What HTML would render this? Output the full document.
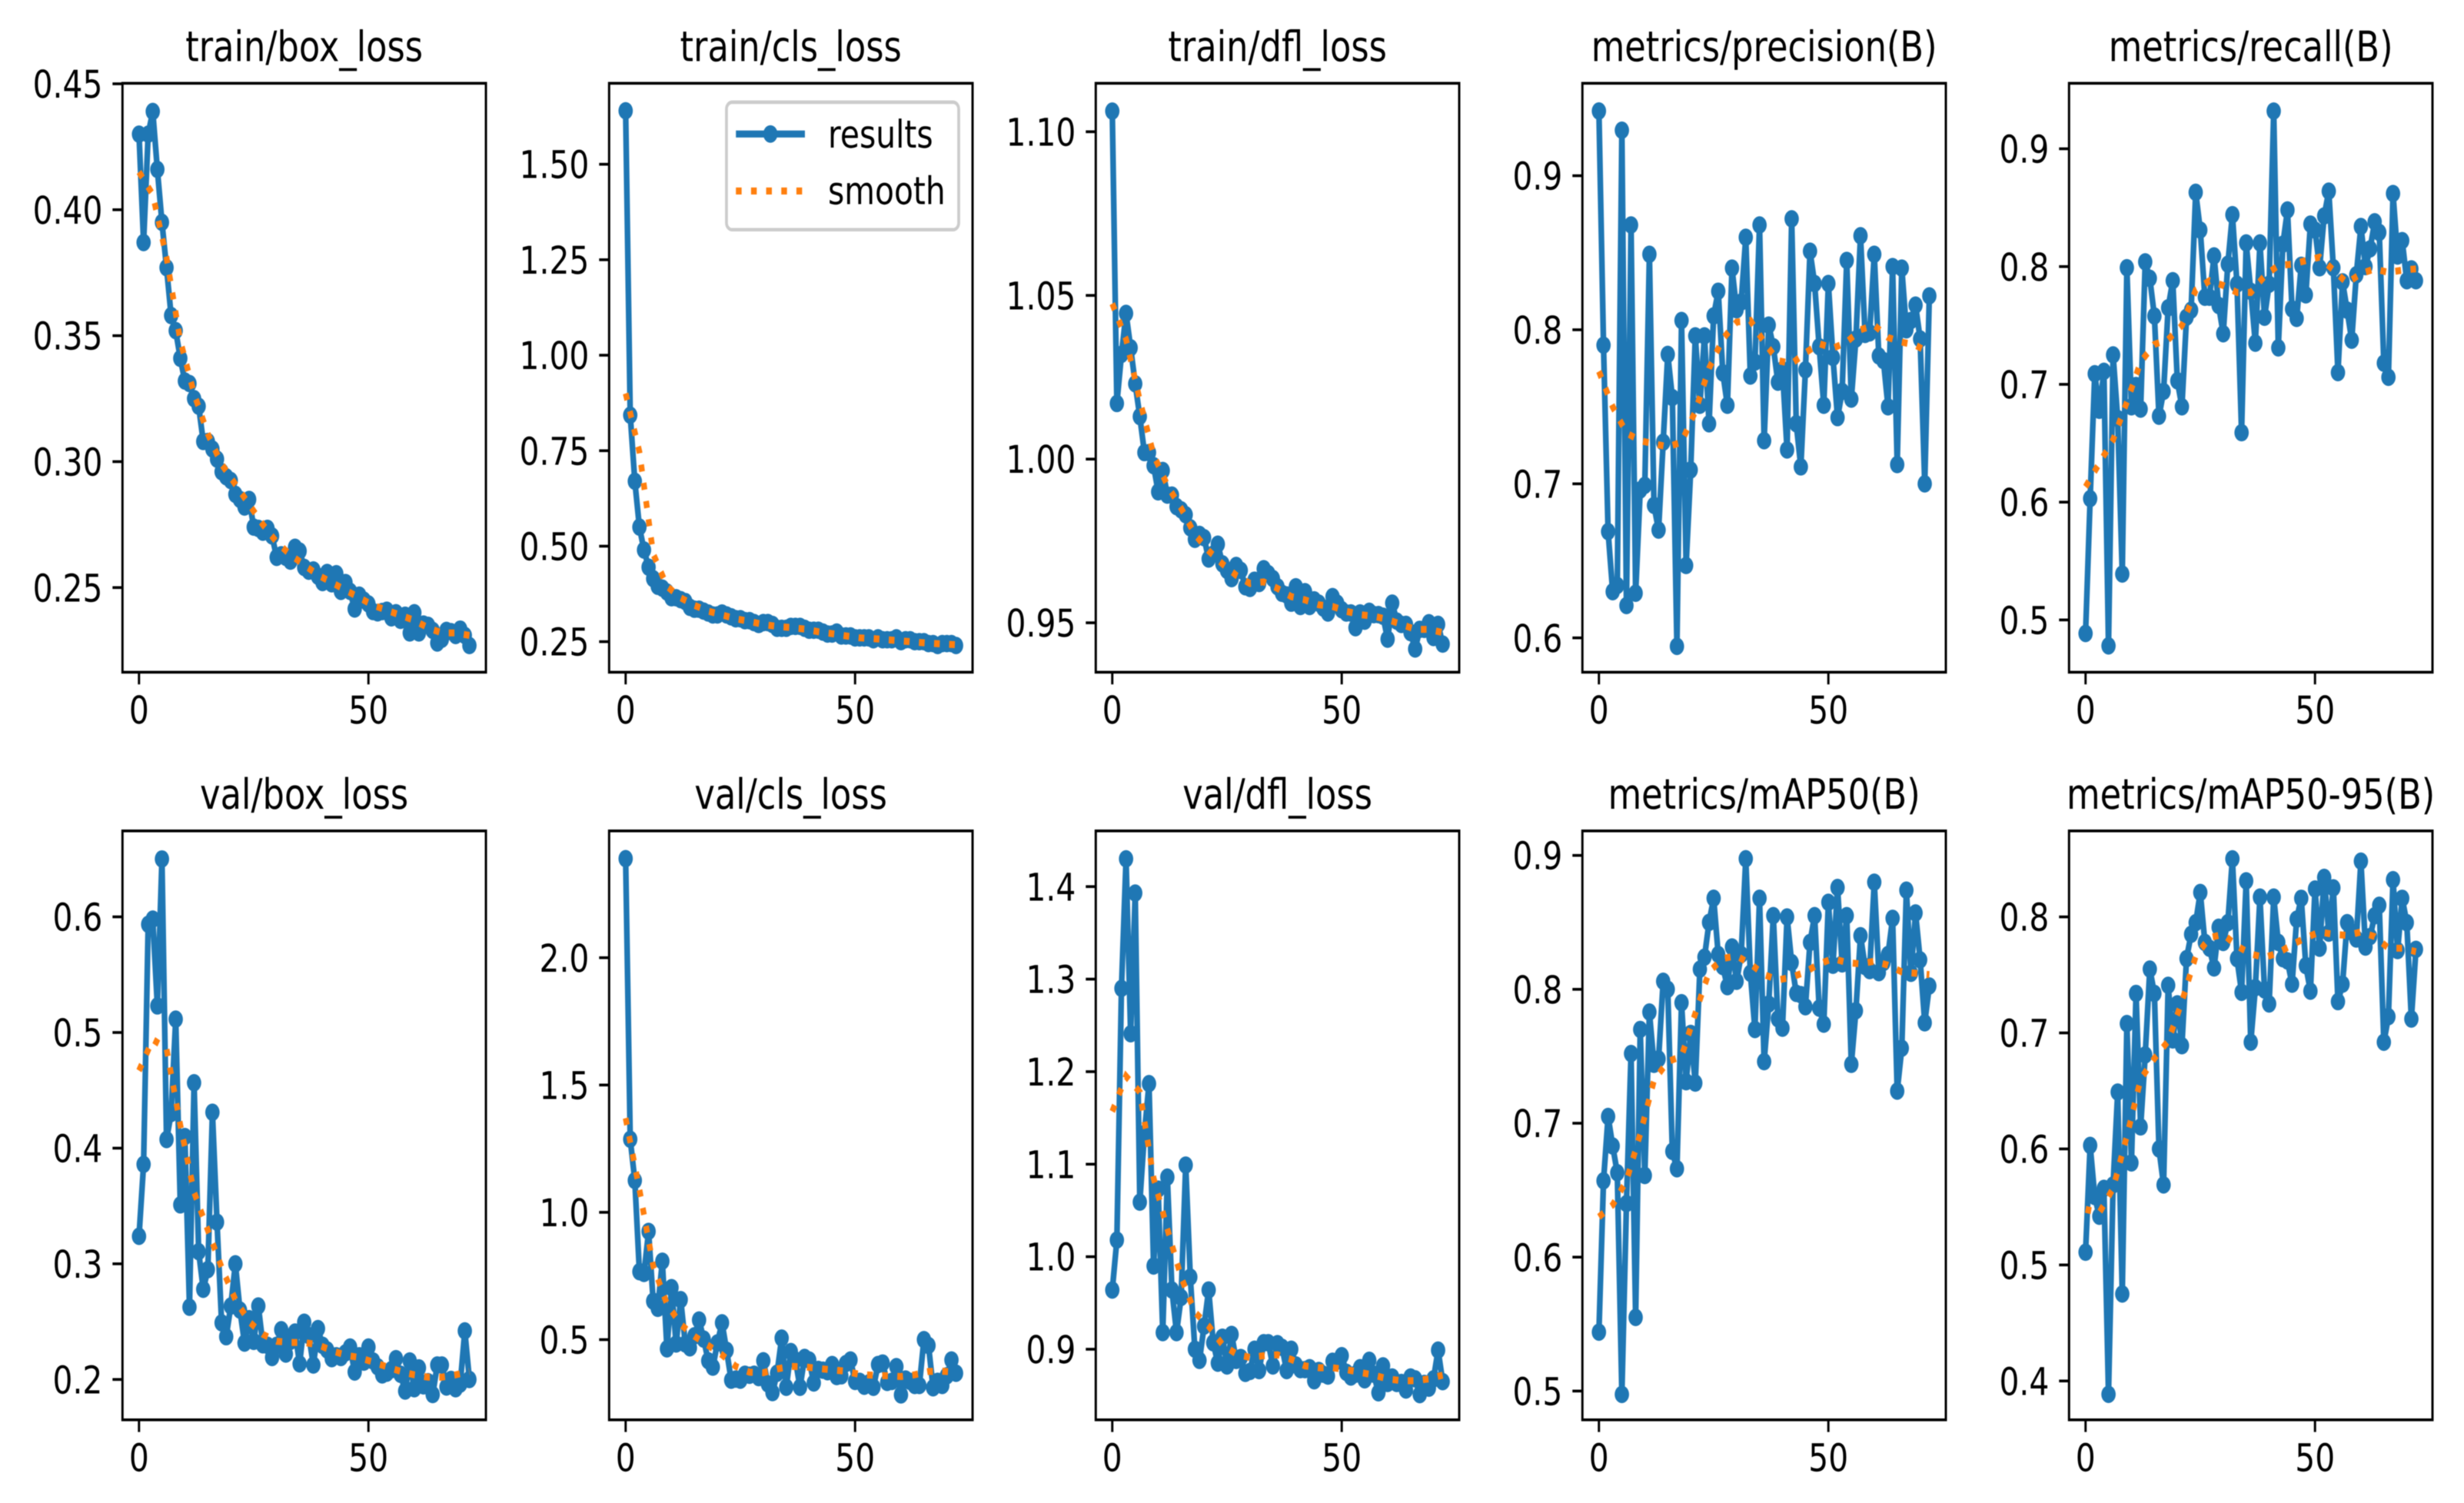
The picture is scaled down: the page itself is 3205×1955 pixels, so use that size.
<!DOCTYPE html>
<html lang="en">
<head>
<meta charset="utf-8">
<title>Training results</title>
<style>
html,body{margin:0;padding:0;background:#fff;width:3205px;height:1955px;overflow:hidden}
svg{display:block;filter:blur(0.6px)}
text{font-family:"DejaVu Sans","Liberation Sans",sans-serif;fill:#000;text-rendering:geometricPrecision}
</style>
</head>
<body>
<svg id="chart" xmlns="http://www.w3.org/2000/svg" width="3205" height="1955" viewBox="0 0 2400 1200" preserveAspectRatio="none">
<rect x="0" y="0" width="2400" height="1200" fill="#fff"/>
<g id="panels"></g>
<g id="legend">
  <rect x="707.6" y="81.6" width="226.2" height="101.8" rx="5.5" ry="5.5" fill="#fff" fill-opacity="0.8" stroke="#cccccc" stroke-width="2.78"/>
  <line x1="716.8" y1="107" x2="784" y2="107" stroke="#1f77b4" stroke-width="5.56"/>
  <circle cx="750.4" cy="107" r="7" fill="#1f77b4"/>
  <text x="806.5" y="117.8" font-size="30.55">results</text>
  <line x1="716.8" y1="152.5" x2="784" y2="152.5" stroke="#ff7f0e" stroke-width="5.56" stroke-dasharray="5.56 9.17"/>
  <text x="806.5" y="162.9" font-size="30.55">smooth</text>
</g>
</svg>
<script>
const xTickLabels = ["0", "50"];
const xDomain = [-3.6, 75.6];
const smoothEpochs = [0,3,6,9,12,15,18,21,24,27,30,33,36,39,42,45,48,51,54,57,60,63,66,69,72];

const trainBoxLoss = [
.430,.387,.430,.439,.416,.395,.377,.358,.352,.341,
.332,.331,.325,.322,.308,.308,.305,.301,.296,.294,
.2925,.287,.285,.282,.285,.274,.2735,.272,.2735,.2705,
.262,.263,.262,.2605,.266,.2645,.258,.2565,.257,.2545,
.252,.256,.2515,.2555,.2485,.252,.2485,.2415,.247,.245,
.2435,.2405,.240,.2405,.241,.238,.24,.237,.239,.232,
.24,.232,.2355,.235,.233,.228,.2295,.233,.2325,.231,
.2335,.231,.227];
const trainBoxSmooth = [.415,.406,.381,.348,.327,.311,.299,.291,.283,.275,.268,.263,.259,.255,.252,.249,.246,.243,.241,.239,.237,.234,.232,.232,.231];
const trainBoxTicks = ["0.25","0.30","0.35","0.40","0.45"];
const trainBoxDomain = [.2164,.4502];

const trainClsLoss = [
1.64,.843,.67,.55,.49,.445,.415,.395,.39,.38,
.365,.365,.36,.355,.34,.335,.335,.33,.325,.32,
.32,.325,.32,.315,.31,.31,.305,.305,.30,.295,
.30,.30,.295,.285,.285,.285,.29,.29,.29,.285,
.28,.28,.28,.275,.27,.27,.275,.265,.265,.265,
.26,.26,.26,.26,.255,.26,.255,.255,.255,.26,
.25,.255,.255,.25,.25,.25,.245,.245,.24,.245,
.245,.245,.24];
const trainClsSmooth = [.90,.747,.48,.395,.365,.345,.33,.32,.31,.303,.295,.29,.287,.283,.276,.271,.265,.26,.258,.255,.252,.249,.246,.244,.242];
const trainClsTicks = ["0.25","0.50","0.75","1.00","1.25","1.50"];
const trainClsDomain = [.170,1.712];

const trainDflLoss = [
1.1063,1.017,1.032,1.0445,1.034,1.023,1.013,1.002,1.002,.998,
.990,.9965,.989,.989,.9855,.9845,.983,.979,.9755,.977,
.976,.9695,.971,.974,.968,.966,.9635,.9675,.966,.961,
.9605,.963,.962,.9665,.965,.9635,.961,.959,.9585,.956,
.961,.955,.9595,.955,.957,.956,.9545,.953,.958,.956,
.954,.953,.953,.9485,.953,.9505,.9535,.9525,.9525,.952,
.945,.956,.9505,.9495,.9495,.947,.942,.948,.948,.95,
.9455,.9495,.9435];
const trainDflSmooth = [1.0475,1.0366,1.018,1.0013,.992,.985,.977,.972,.968,.9645,.962,.9625,.9605,.958,.957,.9555,.955,.9535,.9525,.952,.951,.9495,.948,.948,.947];
const trainDflTicks = ["0.95","1.00","1.05","1.10"];
const trainDflDomain = [.9349,1.1148];

const precision = [
.942,.79,.669,.63,.634,.9295,.621,.868,.629,.696,
.699,.849,.686,.67,.727,.784,.756,.5945,.806,.647,
.709,.796,.751,.796,.739,.809,.825,.772,.751,.84,
.813,.818,.86,.77,.779,.868,.728,.803,.789,.766,
.774,.722,.872,.739,.711,.774,.851,.83,.789,.751,
.83,.782,.743,.76,.845,.755,.794,.861,.797,.798,
.849,.783,.78,.75,.841,.7125,.84,.80,.806,.816,
.794,.70,.822];
const precisionSmooth = [.773,.75,.733,.728,.726,.724,.727,.747,.775,.794,.805,.806,.792,.78,.778,.785,.791,.788,.792,.80,.803,.795,.792,.79,.785];
const precisionTicks = ["0.6","0.7","0.8","0.9"];
const precisionDomain = [.5777,.96];

const recall = [
.4885,.603,.709,.678,.711,.478,.725,.671,.539,.799,
.681,.699,.679,.804,.79,.758,.673,.694,.765,.788,
.703,.681,.757,.763,.863,.831,.774,.774,.809,.767,
.743,.802,.844,.785,.659,.82,.779,.735,.82,.757,
.785,.932,.731,.819,.848,.764,.756,.801,.776,.836,
.831,.799,.843,.864,.799,.71,.787,.763,.7375,.793,
.834,.80,.815,.838,.829,.718,.706,.862,.809,.822,
.788,.798,.788];
const recallSmooth = [.613,.633,.653,.685,.719,.734,.738,.75,.78,.788,.784,.778,.778,.792,.801,.802,.805,.808,.797,.786,.794,.798,.795,.797,.798];
const recallTicks = ["0.5","0.6","0.7","0.8","0.9"];
const recallDomain = [.4556,.9556];

const valBoxLoss = [
.3238,.386,.5935,.598,.523,.65,.4075,.43,.5115,.351,
.41,.2625,.4565,.3105,.278,.295,.431,.336,.249,.237,
.2635,.30,.26,.2315,.2525,.233,.2635,.23,.2295,.219,
.2295,.243,.222,.233,.241,.2135,.2495,.238,.2125,.244,
.2295,.2255,.218,.2205,.219,.223,.228,.2065,.2205,.215,
.228,.216,.211,.204,.2055,.2085,.218,.2045,.19,.216,
.192,.21,.1945,.198,.187,.2125,.2125,.1935,.20,.192,
.196,.242,.20];
const valBoxSmooth = [.467,.494,.486,.42,.362,.329,.297,.269,.25,.239,.233,.232,.232,.23,.225,.221,.219,.215,.211,.207,.204,.202,.202,.204,.207];
const valBoxTicks = ["0.2","0.3","0.4","0.5","0.6"];
const valBoxDomain = [.1651,.6743];

const valClsLoss = [
2.389,1.287,1.125,.767,.76,.925,.651,.623,.808,.464,
.704,.483,.657,.483,.468,.515,.577,.502,.417,.392,
.487,.566,.458,.341,.345,.341,.364,.36,.364,.351,
.417,.326,.292,.368,.506,.313,.453,.42,.313,.43,
.42,.33,.383,.38,.374,.402,.355,.358,.406,.42,
.336,.336,.317,.33,.313,.402,.408,.332,.336,.394,
.283,.345,.336,.32,.32,.50,.477,.311,.336,.32,
.358,.42,.368];
const valClsSmooth = [1.37,1.09,.79,.64,.56,.513,.477,.44,.395,.372,.37,.385,.395,.393,.387,.381,.376,.363,.36,.358,.355,.362,.375,.376,.372];
const valClsTicks = ["0.5","1.0","1.5","2.0"];
const valClsDomain = [.185,2.498];

const valDflLoss = [
.964,1.018,1.29,1.43,1.241,1.393,1.059,1.133,1.187,.99,
1.073,.918,1.086,.964,.918,.956,1.099,.978,.90,.888,
.925,.964,.907,.885,.913,.882,.916,.888,.891,.874,
.876,.90,.877,.907,.907,.882,.906,.902,.877,.90,
.883,.878,.878,.88,.866,.877,.873,.871,.887,.887,
.893,.875,.87,.873,.88,.867,.888,.873,.853,.882,
.863,.87,.863,.864,.856,.87,.868,.851,.863,.858,
.868,.899,.865];
const valDflSmooth = [1.157,1.195,1.178,1.085,1.03,.978,.94,.925,.905,.895,.891,.893,.894,.889,.882,.88,.88,.878,.875,.872,.868,.866,.866,.868,.872];
const valDflTicks = ["0.9","1.0","1.1","1.2","1.3","1.4"];
const valDflDomain = [.8237,1.4602];

const map50 = [
.544,.657,.705,.683,.663,.4975,.64,.752,.555,.77,
.661,.783,.744,.748,.806,.80,.679,.666,.79,.731,
.767,.73,.815,.824,.85,.868,.826,.817,.802,.8316,
.806,.826,.8975,.812,.77,.868,.746,.789,.855,.778,
.771,.854,.82,.797,.796,.787,.835,.855,.786,.774,
.865,.818,.876,.819,.855,.744,.784,.84,.817,.814,
.88,.8125,.82,.826,.853,.724,.756,.874,.812,.857,
.822,.775,.8025];
const map50Smooth = [.63,.639,.657,.692,.732,.746,.75,.782,.813,.823,.825,.819,.811,.807,.809,.813,.819,.823,.82,.819,.821,.818,.813,.812,.811];
const map50Ticks = ["0.5","0.6","0.7","0.8","0.9"];
const map50Domain = [.4785,.9183];

const map5095 = [
.511,.603,.559,.542,.566,.3885,.569,.649,.475,.708,
.588,.734,.619,.681,.755,.734,.60,.569,.741,.694,
.725,.689,.764,.785,.795,.821,.778,.773,.756,.791,
.778,.795,.85,.764,.735,.831,.692,.739,.817,.737,
.725,.817,.778,.764,.762,.742,.798,.816,.758,.736,
.824,.773,.834,.786,.825,.727,.742,.795,.787,.781,
.848,.774,.783,.801,.81,.692,.714,.832,.771,.816,
.795,.712,.772];
const map5095Smooth = [.548,.545,.566,.611,.66,.678,.693,.727,.766,.782,.785,.775,.768,.765,.769,.776,.782,.787,.785,.784,.787,.783,.773,.773,.77];
const map5095Ticks = ["0.4","0.5","0.6","0.7","0.8"];
const map5095Domain = [.3665,.8741];

const panels = [
  {title:"train/box_loss", slug:"train-box-loss", values:trainBoxLoss, smooth:trainBoxSmooth, ticks:trainBoxTicks, domain:trainBoxDomain},
  {title:"train/cls_loss", slug:"train-cls-loss", values:trainClsLoss, smooth:trainClsSmooth, ticks:trainClsTicks, domain:trainClsDomain},
  {title:"train/dfl_loss", slug:"train-dfl-loss", values:trainDflLoss, smooth:trainDflSmooth, ticks:trainDflTicks, domain:trainDflDomain},
  {title:"metrics/precision(B)", slug:"metrics-precision", values:precision, smooth:precisionSmooth, ticks:precisionTicks, domain:precisionDomain},
  {title:"metrics/recall(B)", slug:"metrics-recall", values:recall, smooth:recallSmooth, ticks:recallTicks, domain:recallDomain},
  {title:"val/box_loss", slug:"val-box-loss", values:valBoxLoss, smooth:valBoxSmooth, ticks:valBoxTicks, domain:valBoxDomain},
  {title:"val/cls_loss", slug:"val-cls-loss", values:valClsLoss, smooth:valClsSmooth, ticks:valClsTicks, domain:valClsDomain},
  {title:"val/dfl_loss", slug:"val-dfl-loss", values:valDflLoss, smooth:valDflSmooth, ticks:valDflTicks, domain:valDflDomain},
  {title:"metrics/mAP50(B)", slug:"metrics-map50", values:map50, smooth:map50Smooth, ticks:map50Ticks, domain:map50Domain},
  {title:"metrics/mAP50-95(B)", slug:"metrics-map50-95", values:map5095, smooth:map5095Smooth, ticks:map5095Ticks, domain:map5095Domain}
];

const NS = "http://www.w3.org/2000/svg";
const AX_W = 354, AX_H = 470.2, AX_LEFT = 119.3, AX_STEP = 474, ROW_TOPS = [66.5, 663.4];
const root = document.getElementById("panels");

function make(parent, tag, attrs, text) {
  const el = document.createElementNS(NS, tag);
  for (const k in attrs) el.setAttribute(k, attrs[k]);
  if (text !== undefined) el.textContent = text;
  parent.appendChild(el);
  return el;
}

panels.forEach(function (p, idx) {
  const left = AX_LEFT + (idx % 5) * AX_STEP;
  const top = ROW_TOPS[Math.floor(idx / 5)];
  const right = left + AX_W;
  const bottom = top + AX_H;
  const xScale = function (v) { return left + (v - xDomain[0]) / (xDomain[1] - xDomain[0]) * AX_W; };
  const yScale = function (v) { return bottom - (v - p.domain[0]) / (p.domain[1] - p.domain[0]) * AX_H; };

  const g = make(root, "g", {});
  
  

  const bg = make(g, "rect", {x:left, y:top, width:AX_W, height:AX_H, fill:"#fff"});
  
  

  const line = make(g, "polyline", {
    points: p.values.map(function (v, i) { return xScale(i) + "," + yScale(v); }).join(" "),
    fill:"none", stroke:"#1f77b4", "stroke-width":5.56, "stroke-linejoin":"round"
  });
  
  

  p.values.forEach(function (v, i) {
    const dot = make(g, "circle", {cx:xScale(i), cy:yScale(v), r:7, fill:"#1f77b4"});
    
    
  });

  const smooth = make(g, "polyline", {
    points: p.smooth.map(function (v, i) { return xScale(smoothEpochs[i]) + "," + yScale(v); }).join(" "),
    fill:"none", stroke:"#ff7f0e", "stroke-width":5.56, "stroke-dasharray":"5.56 9.17"
  });
  
  

  const frame = make(g, "rect", {x:left, y:top, width:AX_W, height:AX_H, fill:"none", stroke:"#000", "stroke-width":2.22});
  
  

  const title = make(g, "text", {x:left + AX_W / 2, y:top - 17.7, "font-size":33.5, "text-anchor":"middle"}, p.title);
  
  

  xTickLabels.forEach(function (label) {
    const x = xScale(parseFloat(label));
    const tick = make(g, "line", {x1:x, y1:bottom, x2:x, y2:bottom + 9.72, stroke:"#000", "stroke-width":2.22});
    
    
    const txt = make(g, "text", {x:x, y:bottom + 41, "font-size":30.55, "text-anchor":"middle"}, label);
    
    
  });

  p.ticks.forEach(function (label) {
    const y = yScale(parseFloat(label));
    const tick = make(g, "line", {x1:left - 9.72, y1:y, x2:left, y2:y, stroke:"#000", "stroke-width":2.22});
    
    
    const txt = make(g, "text", {x:left - 19.4, y:y + 11.1, "font-size":30.55, "text-anchor":"end"}, label);
    
    
  });
});
</script>
</body>
</html>
